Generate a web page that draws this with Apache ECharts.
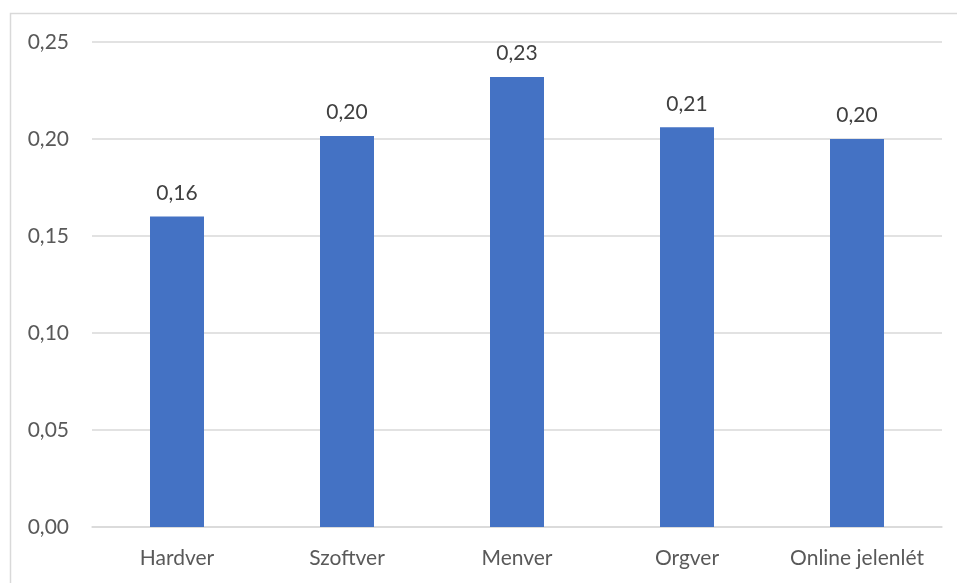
<!DOCTYPE html>
<html>
<head>
<meta charset="utf-8">
<script src="https://cdn.jsdelivr.net/npm/echarts@6/dist/echarts.min.js"></script>
<style>
  html, body { margin: 0; padding: 0; background: #fff; }
  #chart { width: 957px; height: 583px; }
</style>
</head>
<body>
<div id="chart"></div>
<script>
// Categories and values
const categories = ['Hardver', 'Szoftver', 'Menver', 'Orgver', 'Online jelenlét'];
const values = [0.16, 0.2015, 0.232, 0.206, 0.2];
const yTicks = [0, 0.05, 0.10, 0.15, 0.20, 0.25];

const fmt = v => Number(v).toFixed(2).replace('.', ',');
const FONT = 'Lato, "Open Sans", sans-serif';

const chart = echarts.init(document.getElementById('chart'), null, { renderer: 'canvas' });
chart.setOption({
  animation: false,
  backgroundColor: '#ffffff',
  graphic: [{
    type: 'rect',
    shape: { x: 10.5, y: 13.5, width: 980, height: 600 },
    style: { fill: 'none', stroke: '#d9d9d9', lineWidth: 1.5 },
    silent: true
  }],
  grid: { left: 92, right: 15, top: 42, bottom: 56 },
  xAxis: {
    type: 'category',
    data: categories,
    axisLine: { lineStyle: { color: '#d9d9d9', width: 1.5 } },
    axisTick: { show: false },
    axisLabel: {
      color: '#595959', fontSize: 21, fontFamily: FONT, margin: 21,
      interval: 0, hideOverlap: false
    }
  },
  yAxis: {
    type: 'value',
    min: yTicks[0],
    max: yTicks[yTicks.length - 1],
    interval: 0.05,
    axisLine: { show: false },
    axisTick: { show: false },
    splitLine: { lineStyle: { color: '#d9d9d9', width: 1.5 } },
    axisLabel: { color: '#595959', fontSize: 21, fontFamily: FONT, margin: 23, formatter: fmt }
  },
  series: [{
    type: 'bar',
    data: values,
    barWidth: 54,
    itemStyle: { color: '#4472c4' },
    label: {
      show: true,
      position: 'top',
      distance: 13,
      color: '#404040',
      fontSize: 21,
      fontFamily: FONT,
      formatter: p => fmt(p.value)
    }
  }]
});
</script>
</body>
</html>
